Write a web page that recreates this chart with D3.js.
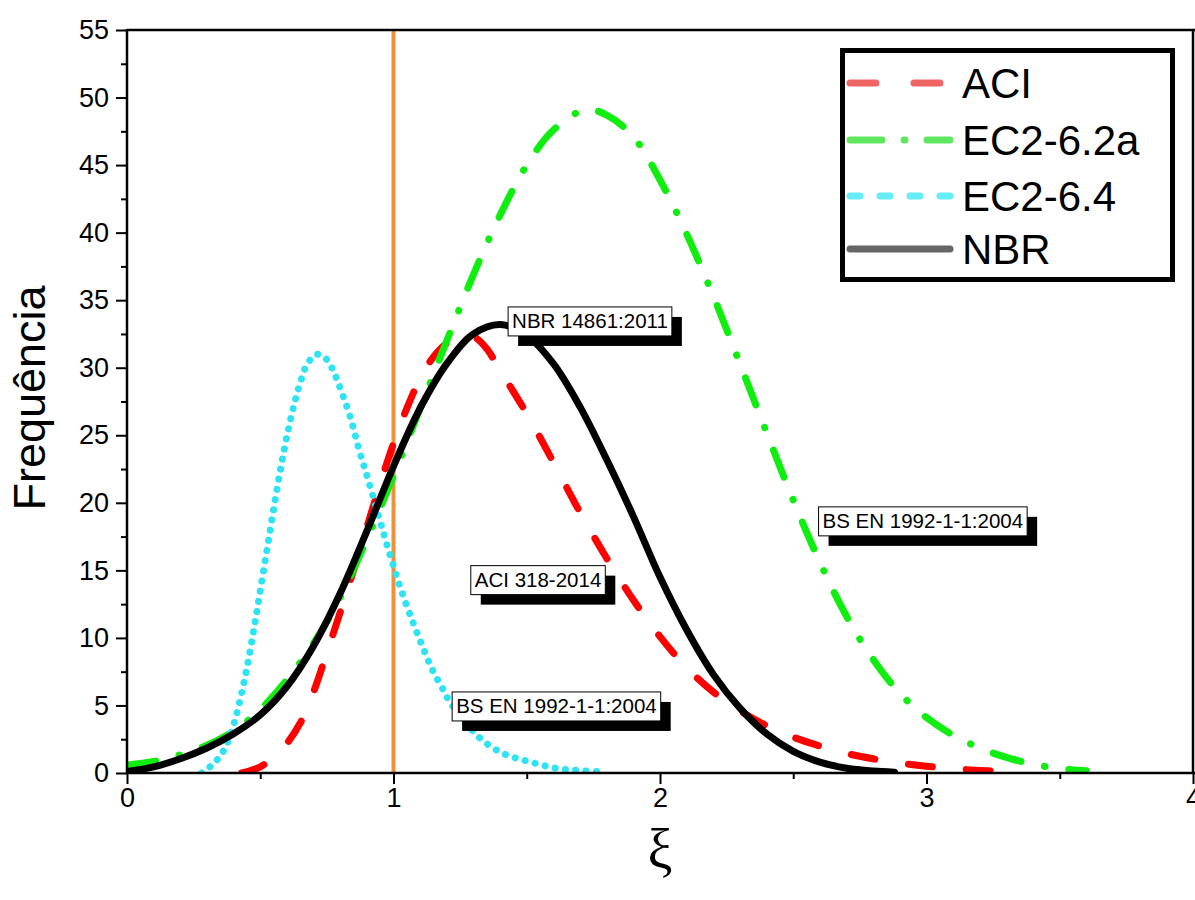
<!DOCTYPE html>
<html>
<head>
<meta charset="utf-8">
<script src="https://cdn.jsdelivr.net/npm/d3@7"></script>
<style>
  html, body { margin: 0; padding: 0; background: #fff; }
  svg { display: block; }
</style>
</head>
<body>
<svg id="chart" width="1195" height="900"></svg>
<script>
// ---------------- DATA ----------------
const xTickValues = [0, 1, 2, 3, 4];
const xMinorTicks = [0.5, 1.5, 2.5, 3.5];
const yTickValues = [0, 5, 10, 15, 20, 25, 30, 35, 40, 45, 50, 55];
const yMinorTicks = [2.5, 7.5, 12.5, 17.5, 22.5, 27.5, 32.5, 37.5, 42.5, 47.5, 52.5];
const referenceXi = 1;

const seriesNames = ["ACI", "EC2-6.2a", "EC2-6.4", "NBR"];

const aciX = [0.43, 0.5, 0.55, 0.6, 0.65, 0.7, 0.75, 0.8, 0.85, 0.9, 0.95, 1.0, 1.05, 1.1, 1.15, 1.2, 1.25, 1.3, 1.35, 1.4, 1.5, 1.6, 1.7, 1.8, 1.9, 2.0, 2.1, 2.2, 2.3, 2.4, 2.5, 2.6, 2.7, 2.8, 2.9, 3.0, 3.1, 3.2, 3.3, 3.35];
const aciY = [0.0, 0.45, 1.2, 2.2, 3.7, 6.0, 8.9, 11.9, 15.0, 18.2, 21.4, 24.4, 27.0, 29.2, 30.8, 31.8, 32.3, 32.3, 31.4, 29.8, 26.6, 23.0, 19.3, 15.9, 12.8, 10.1, 7.8, 6.0, 4.6, 3.5, 2.65, 2.0, 1.45, 1.05, 0.74, 0.5, 0.32, 0.19, 0.11, 0.08];

const ec2aX = [0.0, 0.1, 0.2, 0.3, 0.4, 0.5, 0.6, 0.7, 0.8, 0.9, 1.0, 1.1, 1.2, 1.3, 1.4, 1.5, 1.6, 1.72, 1.8, 1.9, 2.0, 2.1, 2.2, 2.3, 2.4, 2.5, 2.6, 2.7, 2.8, 2.9, 3.0, 3.1, 3.2, 3.3, 3.4, 3.5, 3.6];
const ec2aY = [0.6, 0.85, 1.35, 2.05, 3.1, 4.7, 6.9, 9.6, 13.0, 17.3, 22.0, 27.0, 32.0, 36.9, 41.3, 45.0, 47.6, 49.1, 48.7, 47.1, 43.9, 39.9, 35.3, 30.3, 25.2, 20.2, 15.6, 11.6, 8.4, 5.9, 4.1, 2.8, 1.85, 1.15, 0.65, 0.33, 0.17];

const ec24X = [0.28, 0.32, 0.355, 0.38, 0.405, 0.43, 0.455, 0.48, 0.505, 0.53, 0.555, 0.58, 0.605, 0.63, 0.655, 0.68, 0.715, 0.75, 0.78, 0.805, 0.837, 0.874, 0.905, 0.949, 0.974, 1.005, 1.037, 1.074, 1.106, 1.143, 1.187, 1.21, 1.26, 1.325, 1.41, 1.51, 1.61, 1.69, 1.78];
const ec24Y = [0.0, 0.6, 1.4, 2.4, 3.9, 5.9, 8.3, 11.1, 14.1, 17.1, 20.1, 22.9, 25.4, 27.5, 29.2, 30.4, 31.0, 30.6, 29.5, 28.2, 26.4, 23.7, 21.7, 18.7, 17.0, 15.0, 13.06, 11.1, 9.5, 7.75, 6.15, 5.3, 4.0, 2.57, 1.46, 0.84, 0.35, 0.2, 0.08];

const nbrX = [0.0, 0.1, 0.2, 0.3, 0.4, 0.5, 0.6, 0.7, 0.8, 0.9, 1.0, 1.1, 1.2, 1.3, 1.4, 1.5, 1.6, 1.7, 1.8, 1.9, 2.0, 2.1, 2.2, 2.3, 2.4, 2.5, 2.6, 2.7, 2.8, 2.88];
const nbrY = [0.1, 0.45, 1.05, 1.85, 2.9, 4.3, 6.4, 9.4, 13.3, 17.9, 22.7, 27.0, 30.3, 32.5, 33.2, 32.4, 30.3, 27.1, 23.2, 19.0, 14.5, 10.6, 7.3, 4.8, 2.9, 1.6, 0.8, 0.35, 0.14, 0.06];

const annotationTexts = ["NBR 14861:2011", "ACI 318-2014", "BS EN 1992-1-1:2004", "BS EN 1992-1-1:2004"];
const annotationX = [1.43, 1.29, 1.22, 2.595];   // left edge of box, in ξ units
const annotationY = [34.5, 15.35, 6.0, 19.7];    // top edge of box, in frequency units

// ---------------- LAYOUT / STYLE ----------------
const margin = { left: 127, top: 30, right: 1193, bottom: 773 };
const fontSans = "Arial, 'Liberation Sans', Helvetica, sans-serif";

const svg = d3.select("#chart");
const x = d3.scaleLinear().domain([0, 4]).range([margin.left, margin.right]);
const y = d3.scaleLinear().domain([0, 55]).range([margin.bottom, margin.top]);

const styles = {
  "ACI":      { color: "#ff0000", width: 7, dash: "24 34", cap: "round" },
  "EC2-6.2a": { color: "#10ee10", width: 7, dash: "29 24 0.5 24", cap: "round" },
  "EC2-6.4":  { color: "#2ee3f2", width: 7, dash: "0.1 10.2", cap: "round" },
  "NBR":      { color: "#000000", width: 7, dash: null, cap: "round" }
};
const legendStyles = {
  "ACI":      { color: "#f06464", dash: "26 38", cap: "round" },
  "EC2-6.2a": { color: "#5fe85f", dash: "32 22 1 22 23 60", cap: "round" },
  "EC2-6.4":  { color: "#66eef6", dash: "10 20", cap: "round" },
  "NBR":      { color: "#666666", dash: null, cap: "round" }
};

const seriesData = [
  aciX.map((v, i) => [v, aciY[i]]),
  ec2aX.map((v, i) => [v, ec2aY[i]]),
  ec24X.map((v, i) => [v, ec24Y[i]]),
  nbrX.map((v, i) => [v, nbrY[i]])
];

// clip
svg.append("defs").append("clipPath").attr("id", "plotclip")
  .append("rect").attr("x", margin.left).attr("y", margin.top - 5)
  .attr("width", margin.right - margin.left).attr("height", margin.bottom - margin.top + 5);

// reference vertical line ξ = 1
svg.append("line")
  .attr("x1", x(referenceXi)).attr("x2", x(referenceXi))
  .attr("y1", y(0)).attr("y2", y(55))
  .attr("stroke", "#f0913a").attr("stroke-width", 4);

// curves
const line = d3.line().x(d => x(d[0])).y(d => y(d[1])).curve(d3.curveCatmullRom.alpha(0.5));
const gCurves = svg.append("g").attr("clip-path", "url(#plotclip)");
seriesNames.forEach((name, i) => {
  const s = styles[name];
  gCurves.append("path")
    .datum(seriesData[i])
    .attr("d", line)
    .attr("fill", "none")
    .attr("stroke", s.color)
    .attr("stroke-width", s.width)
    .attr("stroke-linecap", s.cap)
    .attr("stroke-linejoin", "round")
    .attr("stroke-dasharray", s.dash);
});

// axes frame
const axisColor = "#000";
const gAxes = svg.append("g");
gAxes.append("line").attr("x1", margin.left).attr("x2", margin.left)
  .attr("y1", margin.top - 1).attr("y2", margin.bottom + 1).attr("stroke", axisColor).attr("stroke-width", 2.5);
gAxes.append("line").attr("x1", margin.left).attr("x2", margin.right + 2)
  .attr("y1", margin.bottom).attr("y2", margin.bottom).attr("stroke", axisColor).attr("stroke-width", 2.5);
gAxes.append("line").attr("x1", margin.left).attr("x2", margin.right + 2)
  .attr("y1", margin.top).attr("y2", margin.top).attr("stroke", axisColor).attr("stroke-width", 2.5);
gAxes.append("line").attr("x1", margin.right).attr("x2", margin.right)
  .attr("y1", margin.top).attr("y2", margin.bottom).attr("stroke", axisColor).attr("stroke-width", 2.5);

// x axis
const xAxis = d3.axisBottom(x).tickValues(xTickValues).tickFormat(d3.format("d"))
  .tickSizeInner(11).tickSizeOuter(0).tickPadding(4);
const gx = svg.append("g").attr("transform", `translate(0,${margin.bottom})`).call(xAxis);
gx.select(".domain").remove();
gx.selectAll(".tick line").attr("stroke", axisColor).attr("stroke-width", 2);
gx.selectAll(".tick text").attr("font-family", fontSans).attr("font-size", 27).attr("fill", "#000");
const xMinor = d3.axisBottom(x).tickValues(xMinorTicks).tickFormat("").tickSizeInner(6).tickSizeOuter(0);
const gxm = svg.append("g").attr("transform", `translate(0,${margin.bottom})`).call(xMinor);
gxm.select(".domain").remove();
gxm.selectAll(".tick line").attr("stroke", axisColor).attr("stroke-width", 2);

// y axis
const yAxis = d3.axisLeft(y).tickValues(yTickValues).tickFormat(d3.format("d"))
  .tickSizeInner(11).tickSizeOuter(0).tickPadding(7);
const gy = svg.append("g").attr("transform", `translate(${margin.left},0)`).call(yAxis);
gy.select(".domain").remove();
gy.selectAll(".tick line").attr("stroke", axisColor).attr("stroke-width", 2);
gy.selectAll(".tick text").attr("font-family", fontSans).attr("font-size", 27).attr("fill", "#000");
const yMinor = d3.axisLeft(y).tickValues(yMinorTicks).tickFormat("").tickSizeInner(6).tickSizeOuter(0);
const gym = svg.append("g").attr("transform", `translate(${margin.left},0)`).call(yMinor);
gym.select(".domain").remove();
gym.selectAll(".tick line").attr("stroke", axisColor).attr("stroke-width", 2);

// axis titles
svg.append("text")
  .attr("transform", `translate(45,398) rotate(-90)`)
  .attr("text-anchor", "middle")
  .attr("font-family", fontSans).attr("font-size", 45).attr("fill", "#000")
  .text("Frequência");
svg.append("text")
  .attr("x", 660).attr("y", 868)
  .attr("text-anchor", "middle")
  .attr("font-family", "'Liberation Serif', 'DejaVu Serif', serif").attr("font-size", 56).attr("fill", "#000")
  .text("ξ");

// annotations (boxed labels with drop shadow)
annotationTexts.forEach((t, i) => {
  const bx = x(annotationX[i]), by = y(annotationY[i]);
  const g = svg.append("g");
  const shadow = g.append("rect");
  const box = g.append("rect");
  const txt = g.append("text")
    .attr("x", bx + 4).attr("y", by + 21.5)
    .attr("font-family", fontSans).attr("font-size", 20.5).attr("fill", "#000")
    .text(t);
  const tw = txt.node().getComputedTextLength();
  const bw = tw + 8, bh = 29;
  shadow.attr("x", bx + 10).attr("y", by + 10).attr("width", bw).attr("height", bh).attr("fill", "#000");
  box.attr("x", bx).attr("y", by).attr("width", bw).attr("height", bh)
    .attr("fill", "#fff").attr("stroke", "#000").attr("stroke-width", 1);
});

// legend
const legend = svg.append("g");
legend.append("rect")
  .attr("x", 842.5).attr("y", 50.5).attr("width", 330).attr("height", 229)
  .attr("fill", "#fff").attr("stroke", "#000").attr("stroke-width", 5);
const legendRowY = [83, 140, 196, 249];
seriesNames.forEach((name, i) => {
  const ls = legendStyles[name];
  legend.append("line")
    .attr("x1", 850).attr("x2", 950)
    .attr("y1", legendRowY[i]).attr("y2", legendRowY[i])
    .attr("stroke", ls.color).attr("stroke-width", 7)
    .attr("stroke-linecap", ls.cap)
    .attr("stroke-dasharray", ls.dash);
  legend.append("text")
    .attr("x", 962).attr("y", legendRowY[i] + 15)
    .attr("font-family", fontSans).attr("font-size", 42).attr("fill", "#000")
    .text(name);
});
</script>
</body>
</html>
